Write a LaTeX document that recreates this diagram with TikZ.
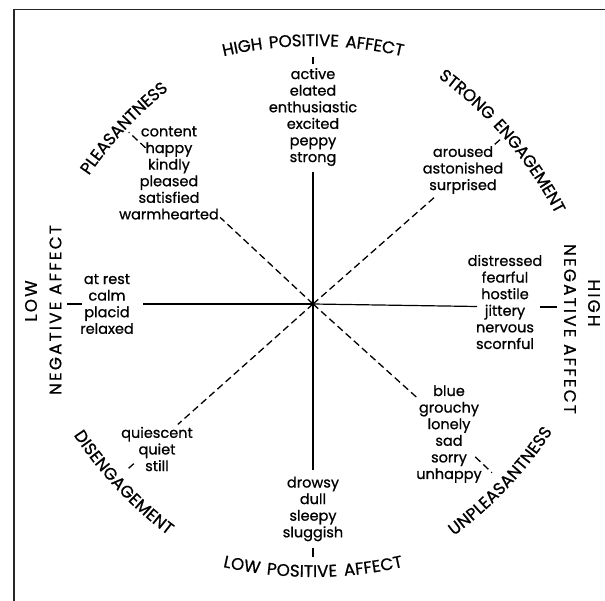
\documentclass[tikz,border=0pt]{standalone}
\usepackage{fontspec}
\setmainfont{Poppins}[FakeBold=0.8]
\newfontfamily\capsfamily[LetterSpace=13, FakeBold=0.8]{Poppins}
\usetikzlibrary{calc, decorations.text}
\newcommand{\axisfont}{\capsfamily\fontsize{16.8}{20}\selectfont}
\newcommand{\wordfont}{\fontsize{14.5}{16.6}\selectfont}

\begin{document}
\begin{tikzpicture}[x=1pt, y=1pt,
    words/.style = {align=center, font=\wordfont, inner sep=0pt},
    axis/.style = {draw=black, line width=1.2pt},
    diag/.style = {draw=black, line width=1.3pt, dash pattern=on 7pt off 4pt},
    sidelabel/.style = {font=\axisfont, inner sep=0pt},
    axislabel/.style = {decorate, decoration={text along path, text={|\axisfont|#1}, text align=center, raise=-6pt}}
]
\useasboundingbox (0,0) rectangle (605,-601);

% frame
\draw [line width=1.5pt, black!85] (605,-9.5) -| (14,-601);

\coordinate (O) at (313,-304);

% word lists
\node (hpa) [words] at (313,-117) {active\\elated\\enthusiastic\\excited\\peppy\\strong};
\node (lpa) [words] at (313,-509) {drowsy\\dull\\sleepy\\sluggish};
\node (lna) [words] at (107,-304) {at rest\\calm\\placid\\relaxed};
\node (hna) [words] at (505,-302) {distressed\\fearful\\hostile\\jittery\\nervous\\scornful};
\node (pl) [words] at (169,-173) {content\\happy\\kindly\\pleased\\satisfied\\warmhearted};
\node (se) [words] at (463,-170) {aroused\\astonished\\surprised};
\node (de) [words] at (157,-449) {quiescent\\quiet\\still};
\node (up) [words] at (449,-434) {blue\\grouchy\\lonely\\sad\\sorry\\unhappy};

% axis ends
\coordinate (hpaE) at (313,-172);
\coordinate (lpaE) at (313,-470);
\coordinate (lnaE) at (143,-304);
\coordinate (hnaE) at (477,-306.5);
\coordinate (plE) at ($(O)+(137:127)$);
\coordinate (seE) at ($(O)+(41.3:162)$);
\coordinate (deE) at ($(O)+(221.7:181)$);
\coordinate (upE) at ($(O)+(-42:141)$);

\draw [axis] (O) -- (hpaE);
\draw [axis] (O) -- (lpaE);
\draw [axis] (O) -- (lnaE);
\draw [axis] (O) -- (hnaE);
\draw [diag] (O) -- (plE);
\draw [diag] (O) -- (seE);
\draw [diag] (O) -- (deE);
\draw [diag] (O) -- (upE);

% short ticks towards the labels
\coordinate (hpaT1) at (313,-57);   \coordinate (hpaT2) at (313,-64);
\coordinate (lpaT1) at (313,-548);  \coordinate (lpaT2) at (313,-557);
\coordinate (lnaT1) at (67,-304);   \coordinate (lnaT2) at (82,-304);
\coordinate (hnaT1) at (540,-307);  \coordinate (hnaT2) at (557,-307);
\coordinate (plT1) at ($(O)+(137:229)$);   \coordinate (plT2) at ($(O)+(137:252)$);
\coordinate (seT1) at ($(O)+(41.3:242)$);  \coordinate (seT2) at ($(O)+(41.3:252)$);
\coordinate (deT1) at ($(O)+(221.7:240)$); \coordinate (deT2) at ($(O)+(221.7:251)$);
\coordinate (upT1) at ($(O)+(-43.3:223)$); \coordinate (upT2) at ($(O)+(-43.3:246)$);

\draw [axis] (hpaT1) -- (hpaT2);
\draw [axis] (lpaT1) -- (lpaT2);
\draw [axis] (lnaT1) -- (lnaT2);
\draw [axis] (hnaT1) -- (hnaT2);
\draw [diag] (plT1) -- (plT2);
\draw [diag] (seT1) -- (seT2);
\draw [diag] (deT1) -- (deT2);
\draw [diag] (upT1) -- (upT2);

% curved labels
\path [axislabel={HIGH POSITIVE AFFECT}] ($(O)+(270:136pt)+(125:400pt)$) arc [start angle=125, end angle=55, radius=400pt];
\path [axislabel={STRONG ENGAGEMENT}] ($(O)+(220.7:141pt)+(75.7:400pt)$) arc [start angle=75.7, end angle=5.7, radius=400pt];
\path [axislabel={PLEASANTNESS}] ($(O)+(317.1:138pt)+(172.1:400pt)$) arc [start angle=172.1, end angle=102.1, radius=400pt];
\path [axislabel={DISENGAGEMENT}] ($(O)+(43.3:136pt)+(188.3:400pt)$) arc [start angle=188.3, end angle=258.3, radius=400pt];
\path [axislabel={UNPLEASANTNESS}] ($(O)+(136.6:138pt)+(281.6:400pt)$) arc [start angle=281.6, end angle=351.6, radius=400pt];
\path [axislabel={LOW POSITIVE AFFECT}] ($(O)+(90:133pt)+(235:400pt)$) arc [start angle=235, end angle=305, radius=400pt];

% side labels
\node (lnaL1) [sidelabel, rotate=90] at (31,-301) {LOW};
\node (lnaL2) [sidelabel, rotate=90] at (55.5,-310) {NEGATIVE AFFECT};
\node (hnaL1) [sidelabel, rotate=-90] at (594,-303) {HIGH};
\node (hnaL2) [sidelabel, rotate=-90] at (570,-329) {NEGATIVE AFFECT};

\end{tikzpicture}
\end{document}
